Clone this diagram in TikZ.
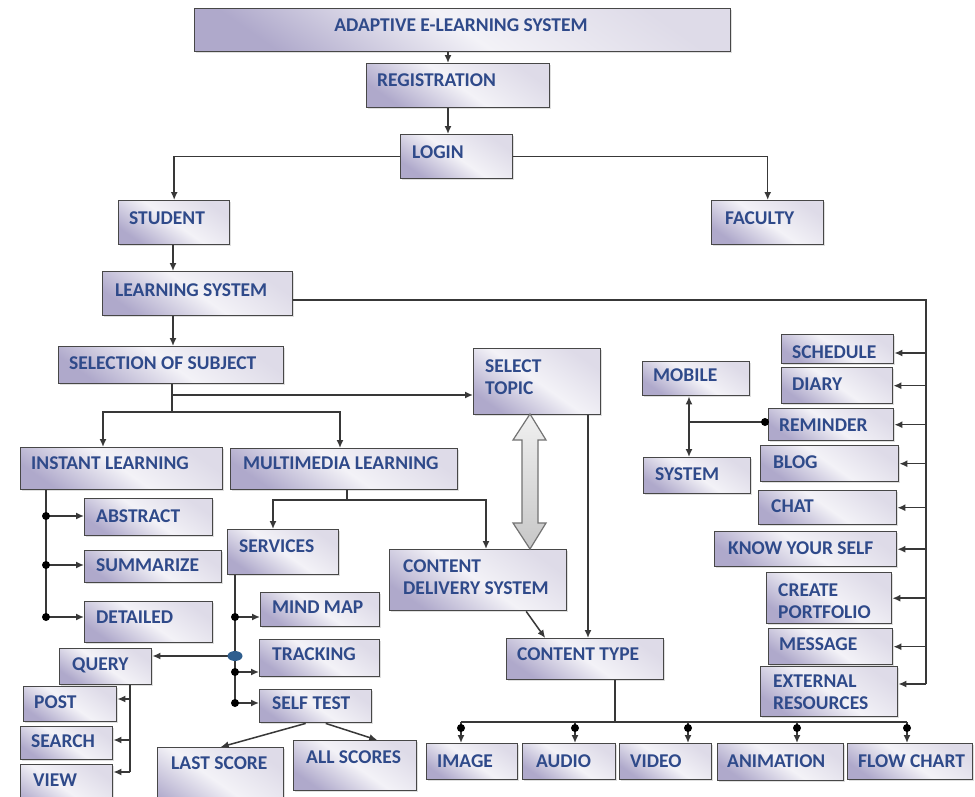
\documentclass[tikz,border=0pt]{standalone}
\usepackage{fontspec}
\setmainfont{Carlito}
\usetikzlibrary{arrows.meta,shadows,shapes.geometric}
\definecolor{txt}{HTML}{2F4A8A}
\definecolor{edge}{HTML}{474747}
\definecolor{lav}{HTML}{AFA9CB}
\definecolor{lite}{HTML}{DEDBE8}
\definecolor{mid}{HTML}{F3F2F7}
\definecolor{wire}{HTML}{383838}
\definecolor{dotblue}{HTML}{2F5E8E}
\tikzset{
 box/.style={draw=edge, line width=1.4pt, top color=lite, bottom color=lav, middle color=mid, shading angle=-35, inner sep=0pt,
   drop shadow={opacity=0.25, shadow xshift=1.5pt, shadow yshift=-1.5pt}},
 lbl/.style={inner sep=0pt, text=txt, font=\fontsize{19.5}{22}\selectfont\bfseries, align=left},
 conn/.style={draw=wire, line width=1.5pt},
 arr/.style={conn, -{Latex[length=8pt,width=7pt]}},
 dblarr/.style={conn, {Latex[length=8pt,width=7pt]}-{Latex[length=8pt,width=7pt]}},
 dotn/.style={circle, fill=black, inner sep=0pt, minimum size=8pt},
 blueell/.style={ellipse, fill=dotblue, inner sep=0pt, minimum width=15pt, minimum height=10pt},
 bigarr/.style={draw=black!55, line width=1.2pt, top color=black!6, bottom color=black!22},
}
\newcommand\mybox[8]{%
  \node[box, minimum width={#4-#2}, minimum height={#5-#3}, anchor=north west] (#1) at (#2,#3) {};
  \node[lbl, anchor=base west] (#1t) at (#6,{#7+6.5}) {#8};
}
\begin{document}
\begin{tikzpicture}[x=1pt,y=-1pt]
\clip (0,0) rectangle (975,796);
\fill[white] (0,0) rectangle (975,796);
% boxes
\node[box, minimum width=536, minimum height=43, anchor=north west] (title) at (194,8) {};
\node[lbl, anchor=base] (titlet) at (461,31) {ADAPTIVE E-LEARNING SYSTEM};
\mybox{reg}{366}{63}{549}{107}{377}{80}{REGISTRATION}
\mybox{login}{400}{134}{512}{178}{412}{152}{LOGIN}
\mybox{student}{118}{200}{229}{244}{129}{218}{STUDENT}
\mybox{faculty}{711}{200}{823}{244}{725}{218}{FACULTY}
\mybox{ls}{102}{271}{292}{315}{115}{290}{LEARNING SYSTEM}
\mybox{sel}{58}{346}{283}{383}{69}{363}{SELECTION OF SUBJECT}
\mybox{topic}{473}{348}{600}{414}{485}{388}{SELECT\\TOPIC}
\mybox{inst}{20}{447}{222}{489}{31}{463}{INSTANT LEARNING}
\mybox{multi}{230}{448}{457}{489}{243}{463}{MULTIMEDIA LEARNING}
\mybox{abs}{84}{498}{212}{535}{96}{516}{ABSTRACT}
\mybox{summ}{84}{550}{221}{582}{96}{565}{SUMMARIZE}
\mybox{detail}{84}{601}{212}{642}{96}{617}{DETAILED}
\mybox{serv}{227}{529}{338}{574}{239}{546}{SERVICES}
\mybox{cds}{389}{549}{566}{610}{403}{588}{CONTENT\\DELIVERY SYSTEM}
\mybox{mind}{260}{592}{379}{626}{272}{607}{MIND MAP}
\mybox{track}{259}{639}{379}{676}{272}{654}{TRACKING}
\mybox{self}{259}{689}{371}{722}{272}{703}{SELF TEST}
\mybox{query}{59}{648}{151}{684}{72}{664}{QUERY}
\mybox{post}{23}{686}{116}{721}{34}{702}{POST}
\mybox{search}{20}{726}{112}{759}{31}{741}{SEARCH}
\mybox{view}{20}{764}{112}{815}{33}{780}{VIEW}
\mybox{last}{157}{747}{283}{820}{171}{763}{LAST SCORE}
\mybox{all}{293}{740}{416}{790}{306}{757}{ALL SCORES}
\mybox{ctype}{506}{638}{663}{679}{517}{654}{CONTENT TYPE}
\mybox{image}{426}{743}{517}{779}{437}{761}{IMAGE}
\mybox{audio}{522}{743}{615}{779}{536}{761}{AUDIO}
\mybox{video}{619}{743}{711}{779}{630}{761}{VIDEO}
\mybox{anim}{717}{743}{843}{780}{727}{761}{ANIMATION}
\mybox{flow}{847}{743}{972}{779}{858}{761}{FLOW CHART}
\mybox{mobile}{642}{361}{749}{395}{653}{375}{MOBILE}
\mybox{system}{643}{457}{750}{493}{655}{474}{SYSTEM}
\mybox{sched}{781}{334}{893}{363}{792}{352}{SCHEDULE}
\mybox{diary}{781}{367}{892}{403}{792}{384}{DIARY}
\mybox{remind}{768}{408}{893}{440}{779}{425}{REMINDER}
\mybox{blog}{760}{445}{898}{481}{773}{462}{BLOG}
\mybox{chat}{758}{490}{896}{524}{771}{506}{CHAT}
\mybox{know}{714}{531}{896}{566}{728}{548}{KNOW YOUR SELF}
\mybox{create}{766}{572}{891}{623}{778}{612}{CREATE\\PORTFOLIO}
\mybox{msg}{768}{628}{892}{664}{779}{644}{MESSAGE}
\mybox{ext}{760}{666}{897}{716}{773}{703}{EXTERNAL\\RESOURCES}
% big double arrow
\path[bigarr] (530,414) -- (546,440) -- (538,440) -- (538,523) -- (546,523) -- (530,549)
  -- (513,523) -- (522,523) -- (522,440) -- (513,440) -- cycle;
% connectors
\coordinate (xa) at (448,0);
\draw[arr] (title.south -| xa) -- (reg.north -| xa);
\draw[arr] (reg.south -| xa) -- (login.north -| xa);
\draw[arr] (login.west) -| (student.north);
\draw[arr] (login.east) -| (faculty.north);
\coordinate (xs) at (173,0);
\draw[arr] (student.south -| xs) -- (ls.north -| xs);
\draw[arr] (ls.south -| xs) -- (sel.north -| xs);
\coordinate (j1) at (172,395);
\coordinate (j2) at (172,412);
\draw[conn] (sel.south -| j2) -- (j2);
\draw[arr] (j1) -- (j1 -| topic.west);
\coordinate (xi) at (103,0);
\coordinate (xm) at (340,0);
\draw[arr] (j2) -| (inst.north -| xi);
\draw[arr] (j2) -| (multi.north -| xm);
\coordinate (k) at (347,500);
\coordinate (xsv) at (273,0);
\coordinate (xcd) at (486,0);
\draw[conn] (multi.south -| k) -- (k);
\draw[arr] (k) -| (cds.north -| xcd);
\draw[arr] (k) -| (serv.north -| xsv);
% instant learning branch
\coordinate (xI) at (46,0);
\coordinate (i1) at (46,516);
\coordinate (i2) at (46,565);
\coordinate (i3) at (46,617);
\draw[conn] (inst.south -| xI) -- (i3);
\draw[arr] (i1) -- (i1 -| abs.west);
\draw[arr] (i2) -- (i2 -| summ.west);
\draw[arr] (i3) -- (i3 -| detail.west);
% services branch
\coordinate (xv) at (235,0);
\coordinate (s0) at (235,656);
\coordinate (s1) at (235,617);
\coordinate (s2) at (235,672);
\coordinate (s3) at (235,703);
\draw[conn] (serv.south -| xv) -- (s3);
\draw[arr] (s1) -- (s1 -| mind.west);
\draw[arr] (s2) -- (s2 -| track.west);
\draw[arr] (s3) -- (s3 -| self.west);
\draw[arr] (s0) -- (s0 -| query.east);
% query branch
\coordinate (xq) at (130,0);
\coordinate (q1) at (130,699);
\coordinate (q2) at (130,740);
\coordinate (q3) at (130,772);
\draw[conn] (query.south -| xq) -- (q3);
\draw[arr] (q1) -- (q1 -| post.east);
\draw[arr] (q2) -- (q2 -| search.east);
\draw[arr] (q3) -- (q3 -| view.east);
% self test
\draw[arr] ([xshift=-10pt]self.south) -- (last.north);
\draw[arr] ([xshift=10pt]self.south) -- ([xshift=22pt]all.north);
% content
\draw[arr] ([xshift=48pt]cds.south) -- ([xshift=-40pt]ctype.north);
\coordinate (xt) at (588,0);
\draw[arr] (topic.south -| xt) -- (ctype.north -| xt);
\coordinate (b0) at (615,722);
\coordinate (bl) at (461,722);
\coordinate (br) at (907,722);
\draw[conn] (ctype.south -| b0) -- (b0);
\draw[conn] (bl) -- (br);
\coordinate (b2) at (575,722);
\coordinate (b3) at (688,722);
\coordinate (b4) at (797,722);
\draw[arr] (bl) -- (image.north -| bl);
\draw[arr] (b2) -- (audio.north -| b2);
\draw[arr] (b3) -- (video.north -| b3);
\draw[arr] (b4) -- (anim.north -| b4);
\draw[arr] (br) -- (flow.north -| br);
% right column
\coordinate (r0) at (926,300);
\coordinate (r1) at (926,684);
\coordinate (r2) at (926,353);
\draw[conn] (ls.east |- r0) -- (r0) -- (r1);
\draw[arr] (r2) -- (r2 -| sched.east);
\draw[arr] (r0 |- diary.east) -- (diary.east);
\draw[arr] (r0 |- remind.east) -- (remind.east);
\draw[arr] (r0 |- blog.east) -- (blog.east);
\draw[arr] (r0 |- chat.east) -- (chat.east);
\draw[arr] (r0 |- know.east) -- (know.east);
\draw[arr] (r0 |- create.east) -- (create.east);
\draw[arr] (r0 |- msg.east) -- (msg.east);
\draw[arr] (r1) -- (r1 -| ext.east);
% mobile / system
\coordinate (xmb) at (689,0);
\coordinate (mr) at (689,422);
\draw[dblarr] (mobile.south -| xmb) -- (system.north -| xmb);
\draw[conn] (mr) -- (mr -| remind.west);
% dots
\node[dotn] (d1) at (i1) {};
\node[dotn] (d2) at (i2) {};
\node[dotn] (d3) at (i3) {};
\node[dotn] (d4) at (s1) {};
\node[dotn] (d5) at (s2) {};
\node[dotn] (d6) at (s3) {};
\node[blueell] (d0) at (s0) {};
\node[dotn] (d7) at ([xshift=-3pt]mr -| remind.west) {};
\node[dotn] (e1) at (461,728) {};
\node[dotn] (e2) at (575,728) {};
\node[dotn] (e3) at (688,728) {};
\node[dotn] (e4) at (797,728) {};
\node[dotn] (e5) at (907,728) {};
\end{tikzpicture}
\end{document}
